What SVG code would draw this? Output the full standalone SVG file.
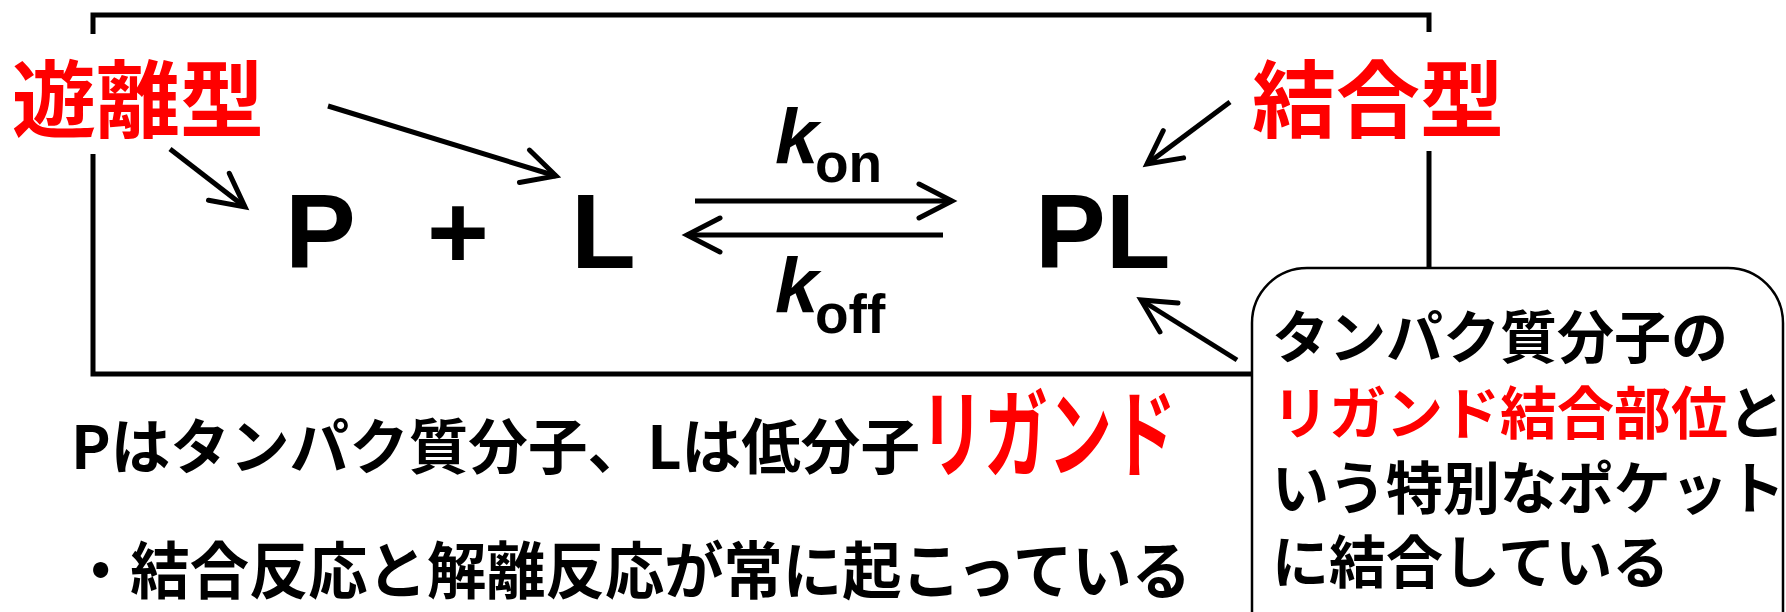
<svg xmlns="http://www.w3.org/2000/svg" width="1786" height="612" viewBox="0 0 1786 612">
<defs>
<style>
.frame{fill:none;stroke:#000;stroke-width:5}
.arr{fill:none;stroke:#000;stroke-width:5;marker-end:url(#ah)}
.jp{font-family:"Noto Sans CJK JP","Noto Sans CJK SC",sans-serif;font-weight:700}
.red{fill:#ff0000}
.blk{fill:#000}
.big{font-family:"Liberation Sans",Arial,sans-serif;font-weight:700;fill:#000}
</style>
<marker id="ah" viewBox="-38 -24 44 48" refX="0" refY="0" markerWidth="44" markerHeight="48" markerUnits="userSpaceOnUse" orient="auto">
<path d="M-33,-17 L0,0 L-33,17" fill="none" stroke="#000" stroke-width="5" stroke-linecap="round" stroke-linejoin="miter"/>
</marker>
</defs>
<rect width="1786" height="612" fill="#fff"/>
<g id="frame">
<path class="frame" d="M93,34 V15 H1429 V32"/>
<path class="frame" d="M93,154 V374 H1253"/>
<path class="frame" d="M1429,151 V270"/>
</g>
<g id="connectors">
<line class="arr" x1="170" y1="149" x2="245" y2="207"/>
<line class="arr" x1="328" y1="106" x2="556" y2="176"/>
<line class="arr" x1="695" y1="201" x2="952" y2="201"/>
<line class="arr" x1="943" y1="235" x2="687" y2="235"/>
<line class="arr" x1="1230" y1="102" x2="1147" y2="164"/>
<line class="arr" x1="1237" y1="360" x2="1141" y2="300"/>
</g>
<g id="free-type"><text class="jp red" x="12" y="131" font-size="84">遊離型</text></g>
<g id="bound-type"><text class="jp red" x="1252" y="131" font-size="84">結合型</text></g>
<g id="P"><text class="big" x="285" y="268" font-size="106">P</text></g>
<g id="plus"><text class="big" x="427" y="268" font-size="106">+</text></g>
<g id="L"><text class="big" x="571" y="268" font-size="106">L</text></g>
<g id="PL"><text class="big" x="1035" y="268" font-size="106">PL</text></g>
<g id="kon"><text class="big" x="775" y="164" font-size="78" font-style="italic">k</text><text class="big" x="815" y="182" font-size="55">on</text></g>
<g id="koff"><text class="big" x="775" y="313" font-size="78" font-style="italic">k</text><text class="big" x="815" y="333" font-size="55">off</text></g>
<g id="callout">
<rect x="1252" y="268" width="531" height="420" rx="55" ry="55" fill="#fff" stroke="#000" stroke-width="2.5"/>
<text class="jp blk" x="1272" y="358" font-size="57">タンパク質分子の</text>
<text class="jp blk" x="1272" y="434" font-size="57"><tspan class="red">リガンド結合部位</tspan>と</text>
<text class="jp blk" x="1272" y="509" font-size="57">いう特別なポケット</text>
<text class="jp blk" x="1272" y="583" font-size="57">に結合している</text>
</g>
<g id="note1"><text class="jp blk" x="71" y="469" font-size="60"><tspan textLength="849" lengthAdjust="spacingAndGlyphs">Pはタンパク質分子、Lは低分子</tspan><tspan class="red" font-size="96" textLength="256" lengthAdjust="spacingAndGlyphs">リガンド</tspan></text></g>
<g id="note2"><text class="jp blk" x="71" y="594" font-size="62" textLength="1120" lengthAdjust="spacingAndGlyphs">・結合反応と解離反応が常に起こっている</text></g>
</svg>
